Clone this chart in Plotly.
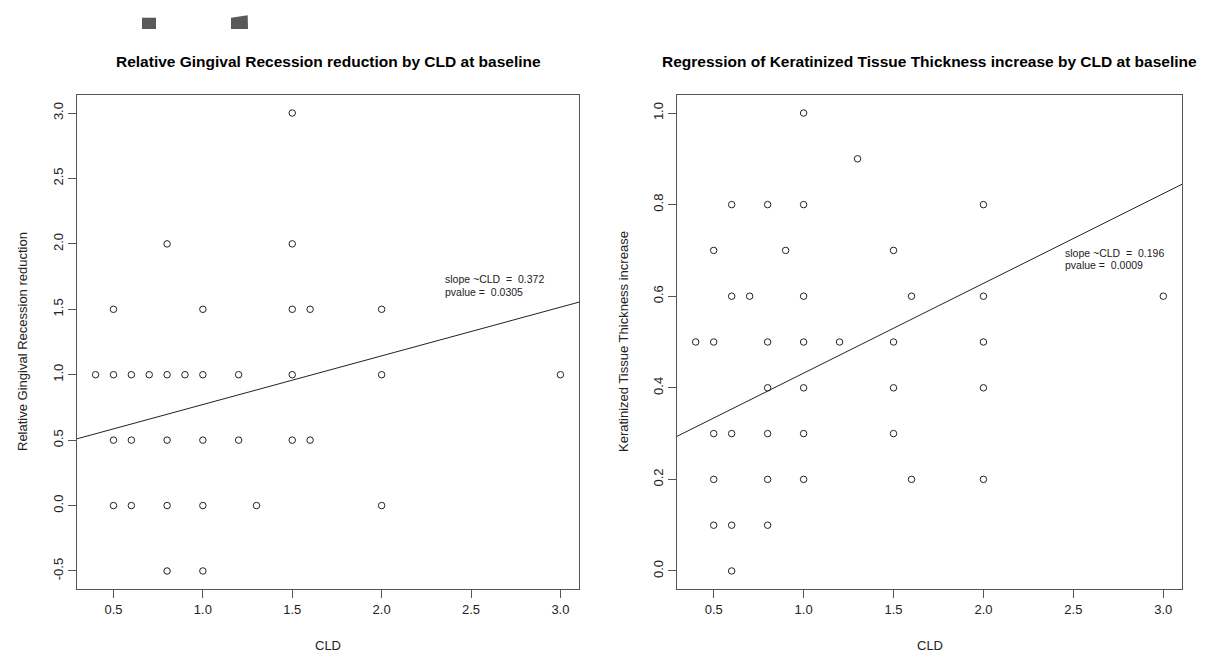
import plotly.graph_objects as go
import numpy as np

# ---- data: left panel (Relative Gingival Recession reduction) ----
rgr_cld = [1.5, 0.8, 1.5, 0.5, 1.0, 1.5, 1.6, 2.0,
           0.4, 0.5, 0.6, 0.7, 0.8, 0.9, 1.0, 1.2, 1.5, 2.0, 3.0,
           0.5, 0.6, 0.8, 1.0, 1.2, 1.5, 1.6,
           0.5, 0.6, 0.8, 1.0, 1.3, 2.0,
           0.8, 1.0]
rgr_val = [3.0, 2.0, 2.0, 1.5, 1.5, 1.5, 1.5, 1.5,
           1.0, 1.0, 1.0, 1.0, 1.0, 1.0, 1.0, 1.0, 1.0, 1.0, 1.0,
           0.5, 0.5, 0.5, 0.5, 0.5, 0.5, 0.5,
           0.0, 0.0, 0.0, 0.0, 0.0, 0.0,
           -0.5, -0.5]
rgr_slope = 0.372
rgr_intercept = 0.40
rgr_pvalue = "0.0305"

# ---- data: right panel (Keratinized Tissue Thickness increase) ----
ktt_cld = [1.0,
           1.3,
           0.6, 0.8, 1.0, 2.0,
           0.5, 0.9, 1.5,
           0.6, 0.7, 1.0, 1.6, 2.0, 3.0,
           0.4, 0.5, 0.8, 1.0, 1.2, 1.5, 2.0,
           0.8, 1.0, 1.5, 2.0,
           0.5, 0.6, 0.8, 1.0, 1.5,
           0.5, 0.8, 1.0, 1.6, 2.0,
           0.5, 0.6, 0.8,
           0.6]
ktt_val = [1.0,
           0.9,
           0.8, 0.8, 0.8, 0.8,
           0.7, 0.7, 0.7,
           0.6, 0.6, 0.6, 0.6, 0.6, 0.6,
           0.5, 0.5, 0.5, 0.5, 0.5, 0.5, 0.5,
           0.4, 0.4, 0.4, 0.4,
           0.3, 0.3, 0.3, 0.3, 0.3,
           0.2, 0.2, 0.2, 0.2, 0.2,
           0.1, 0.1, 0.1,
           0.0]
ktt_slope = 0.196
ktt_intercept = 0.236
ktt_pvalue = "0.0009"

x_ticks = [0.5, 1.0, 1.5, 2.0, 2.5, 3.0]
rgr_yticks = [-0.5, 0.0, 0.5, 1.0, 1.5, 2.0, 2.5, 3.0]
ktt_yticks = [0.0, 0.2, 0.4, 0.6, 0.8, 1.0]

titles = ["Relative Gingival Recession reduction by CLD at baseline",
          "Regression of Keratinized Tissue Thickness increase by CLD at baseline"]
ylabels = ["Relative Gingival Recession reduction",
           "Keratinized Tissue Thickness increase"]
xlabel = "CLD"

W, H = 1211, 655
FONT = "Liberation Sans, Arial, sans-serif"
INK = "#222222"


def r_range(v):
    lo, hi = min(v), max(v)
    pad = 0.04 * (hi - lo)
    return [lo - pad, hi + pad]


def px_x(p):
    return p / W


def px_y(p):
    return 1 - p / H


fig = go.Figure()

panels = [
    dict(x=rgr_cld, y=rgr_val, slope=rgr_slope, icpt=rgr_intercept, p=rgr_pvalue,
         yticks=rgr_yticks, xa="x", ya="y", dom=(77, 579), ylab_x=22,
         ann_x=2.342, ann_y=(1.73, 1.63)),
    dict(x=ktt_cld, y=ktt_val, slope=ktt_slope, icpt=ktt_intercept, p=ktt_pvalue,
         yticks=ktt_yticks, xa="x2", ya="y2", dom=(677, 1182), ylab_x=623,
         ann_x=2.444, ann_y=(0.6945, 0.668)),
]

top_px, bot_px = 94.7, 589.3
annotations = []
for i, pn in enumerate(panels):
    xr = r_range(pn["x"])
    yr = r_range(pn["y"])
    fig.add_trace(go.Scatter(
        x=pn["x"], y=pn["y"], mode="markers", xaxis=pn["xa"], yaxis=pn["ya"],
        marker=dict(symbol="circle-open", size=6.5, color=INK, line=dict(width=1, color=INK)),
        showlegend=False, hoverinfo="x+y"))
    lx = np.array(xr)
    fig.add_trace(go.Scatter(
        x=lx, y=pn["icpt"] + pn["slope"] * lx, mode="lines",
        xaxis=pn["xa"], yaxis=pn["ya"],
        line=dict(color=INK, width=1), showlegend=False, hoverinfo="skip"))

    suffix = "" if i == 0 else "2"
    axcommon = dict(showline=True, linecolor="#555555", linewidth=1, mirror=True,
                    ticks="outside", ticklen=8, tickcolor="#555555", tickwidth=1,
                    showgrid=False, zeroline=False,
                    tickfont=dict(family=FONT, size=13, color=INK))
    fig.update_layout(**{
        "xaxis" + suffix: dict(domain=[px_x(pn["dom"][0]), px_x(pn["dom"][1])],
                               range=xr, tickvals=x_ticks,
                               ticktext=[f"{t:.1f}" for t in x_ticks],
                               anchor="y" + suffix, **axcommon),
        "yaxis" + suffix: dict(domain=[px_y(bot_px), px_y(top_px)],
                               range=yr, tickvals=pn["yticks"],
                               ticktext=[f"{t:.1f}" for t in pn["yticks"]],
                               tickangle=-90,
                               anchor="x" + suffix, **axcommon),
    })

    cx = (pn["dom"][0] + pn["dom"][1]) / 2
    annotations.append(dict(text="<b>" + titles[i] + "</b>", x=px_x(cx), y=px_y(62),
                            xref="paper", yref="paper", showarrow=False,
                            xanchor="center", yanchor="middle",
                            font=dict(family=FONT, size=15.5, color="#000000")))
    annotations.append(dict(text=xlabel, x=px_x(cx), y=px_y(645),
                            xref="paper", yref="paper", showarrow=False,
                            xanchor="center", yanchor="middle",
                            font=dict(family=FONT, size=13, color=INK)))
    annotations.append(dict(text=ylabels[i], x=px_x(pn["ylab_x"]),
                            y=px_y((top_px + bot_px) / 2),
                            xref="paper", yref="paper", showarrow=False, textangle=-90,
                            xanchor="center", yanchor="middle",
                            font=dict(family=FONT, size=13, color=INK)))
    nb = "\u00a0"
    annotations.append(dict(text=f"slope ~CLD {nb}={nb} {pn['slope']:.3f}",
                            x=pn["ann_x"], y=pn["ann_y"][0], xref=pn["xa"], yref=pn["ya"],
                            showarrow=False, xanchor="left", yanchor="middle",
                            font=dict(family=FONT, size=10.5, color=INK)))
    annotations.append(dict(text=f"pvalue = {nb}{pn['p']}",
                            x=pn["ann_x"], y=pn["ann_y"][1], xref=pn["xa"], yref=pn["ya"],
                            showarrow=False, xanchor="left", yanchor="middle",
                            font=dict(family=FONT, size=10.5, color=INK)))

shapes = [
    dict(type="rect", xref="paper", yref="paper",
         x0=px_x(142), x1=px_x(156), y0=px_y(29), y1=px_y(17.7),
         fillcolor="#5a5a5a", line=dict(width=0)),
    dict(type="path", xref="paper", yref="paper",
         path=f"M {px_x(231)} {px_y(17.7)} L {px_x(247.7)} {px_y(15.3)} "
              f"L {px_x(248)} {px_y(29)} L {px_x(231)} {px_y(29)} Z",
         fillcolor="#5a5a5a", line=dict(width=0)),
]

fig.update_layout(width=W, height=H, margin=dict(l=0, r=0, t=0, b=0),
                  paper_bgcolor="white", plot_bgcolor="white",
                  annotations=annotations, shapes=shapes,
                  font=dict(family=FONT))

fig.write_html("out.html", config={"displayModeBar": False},
               post_script="document.body.style.margin='0px';document.body.style.overflow='hidden';")
